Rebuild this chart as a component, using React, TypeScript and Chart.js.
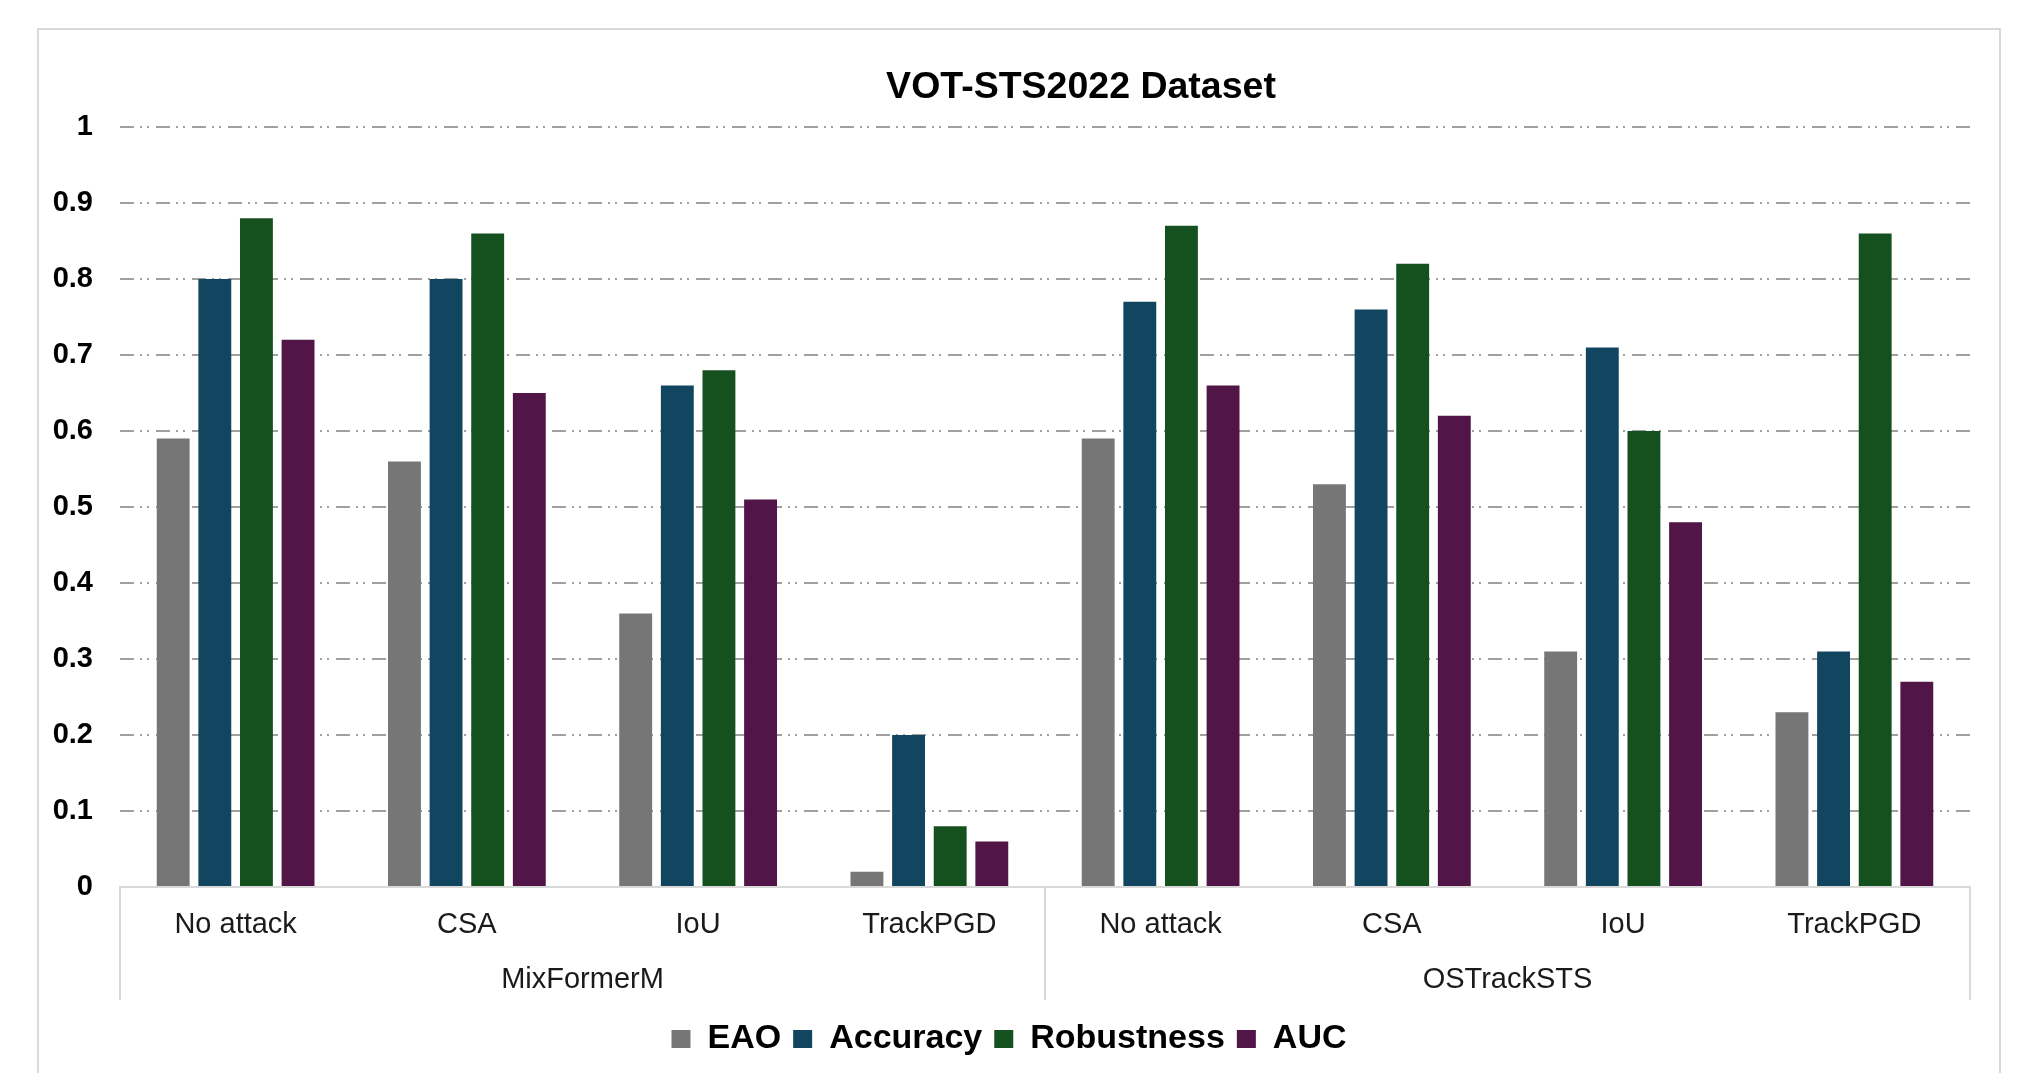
import React, { useEffect, useRef } from 'react';
import { Chart, registerables } from 'chart.js';

Chart.register(...registerables);

// ---- Data ----
const chartTitle = 'VOT-STS2022 Dataset';
const categories = ['No attack', 'CSA', 'IoU', 'TrackPGD', 'No attack', 'CSA', 'IoU', 'TrackPGD'];
const groups = ['MixFormerM', 'OSTrackSTS'];
const groupSizes = [4, 4];
const seriesNames = ['EAO', 'Accuracy', 'Robustness', 'AUC'];
const eaoValues = [0.59, 0.56, 0.36, 0.02, 0.59, 0.53, 0.31, 0.23];
const accuracyValues = [0.8, 0.8, 0.66, 0.2, 0.77, 0.76, 0.71, 0.31];
const robustnessValues = [0.88, 0.86, 0.68, 0.08, 0.87, 0.82, 0.6, 0.86];
const aucValues = [0.72, 0.65, 0.51, 0.06, 0.66, 0.62, 0.48, 0.27];
const yMin = 0;
const yMax = 1;
const yStep = 0.1;

const seriesColors = ['#767676', '#114560', '#15501f', '#521547'];
const FONT = '"Liberation Sans", Arial, sans-serif';

const titlePlugin = {
  id: 'customTitle',
  afterDraw(chart: any) {
    const { ctx, chartArea } = chart;
    ctx.save();
    ctx.font = `bold 37.5px ${FONT}`;
    ctx.fillStyle = '#000';
    ctx.textAlign = 'center';
    ctx.textBaseline = 'middle';
    ctx.fillText(chartTitle, (chartArea.left + chartArea.right) / 2 + 36, chartArea.top - 39.5);
    ctx.restore();
  },
};

const separatorPlugin = {
  id: 'groupSeparators',
  afterDraw(chart: any) {
    const x = chart.scales.x;
    const x2 = chart.scales.x2;
    const step = x.getPixelForValue(1) - x.getPixelForValue(0);
    const positions: number[] = [x.getPixelForValue(0) - step / 2];
    let idx = 0;
    groupSizes.forEach((n) => {
      idx += n;
      positions.push(x.getPixelForValue(idx - 1) + step / 2);
    });
    const { ctx } = chart;
    ctx.save();
    ctx.strokeStyle = '#d9d9d9';
    ctx.lineWidth = 2;
    positions.forEach((px) => {
      ctx.beginPath();
      ctx.moveTo(px, x.top);
      ctx.lineTo(px, x2.top + 53);
      ctx.stroke();
    });
    ctx.restore();
  },
};

export default function App() {
  const ref = useRef<HTMLCanvasElement>(null);

  useEffect(() => {
    if (!ref.current) return;
    Chart.defaults.font.family = FONT;
    const values = [eaoValues, accuracyValues, robustnessValues, aucValues];
    const chart = new Chart(ref.current, {
      type: 'bar',
      data: {
        labels: categories,
        datasets: seriesNames.map((name, i) => ({
          label: name,
          data: values[i],
          backgroundColor: seriesColors[i],
          borderWidth: 0,
          categoryPercentage: 0.72,
          barPercentage: 0.79,
          xAxisID: 'x',
          yAxisID: 'y',
        })),
      },
      options: {
        responsive: false,
        animation: false,
        devicePixelRatio: 1,
        layout: { padding: { left: 48, right: 66, top: 127, bottom: 7 } },
        plugins: {
          title: { display: false },
          tooltip: { enabled: false },
          legend: {
            display: true,
            position: 'bottom',
            labels: {
              color: '#000',
              font: { size: 34, weight: 'bold', family: FONT },
              boxWidth: 19,
              boxHeight: 18,
              padding: 12,
            },
          },
        },
        scales: {
          x: {
            type: 'category',
            position: 'bottom',
            offset: true,
            grid: { display: false, drawTicks: false },
            border: { display: true, color: '#d9d9d9', width: 2 },
            ticks: {
              color: '#1a1a1a',
              font: { size: 29, family: FONT },
              padding: 21,
              autoSkip: false,
              maxRotation: 0,
            },
            afterFit: (s: any) => {
              s.height = 60;
            },
          },
          x2: {
            type: 'category',
            position: 'bottom',
            labels: groups,
            offset: true,
            grid: { display: false, drawTicks: false },
            border: { display: false },
            ticks: {
              color: '#1a1a1a',
              font: { size: 29, family: FONT },
              padding: 16,
              autoSkip: false,
              maxRotation: 0,
            },
            afterFit: (s: any) => {
              s.height = 63;
            },
          },
          y: {
            type: 'linear',
            min: yMin,
            max: yMax,
            grid: {
              drawTicks: false,
              lineWidth: 2,
              color: (c: any) => (c.tick && c.tick.value === 0 ? 'rgba(0,0,0,0)' : '#a0a0a0'),
            },
            border: { display: false, dash: [14, 6, 2, 5, 2, 7] },
            ticks: {
              stepSize: yStep,
              color: '#000',
              font: { size: 29, weight: 'bold', family: FONT },
              padding: 27,
              callback: (v: any) => String(Number(Number(v).toFixed(1))),
            },
            afterFit: (s: any) => {
              s.width = 72;
            },
          },
        },
      } as any,
      plugins: [titlePlugin, separatorPlugin],
    });
    return () => chart.destroy();
  }, []);

  return (
    <div
      style={{
        position: 'fixed',
        left: 0,
        top: 0,
        width: 2036,
        height: 1073,
        background: '#fff',
        overflow: 'hidden',
      }}
    >
      <div
        style={{
          position: 'absolute',
          left: 37,
          top: 28,
          width: 1964,
          height: 1100,
          border: '2px solid #d9d9d9',
          boxSizing: 'border-box',
        }}
      />
      <canvas
        ref={ref}
        width={2036}
        height={1073}
        style={{ position: 'absolute', left: 0, top: 0, width: 2036, height: 1073 }}
      />
    </div>
  );
}
